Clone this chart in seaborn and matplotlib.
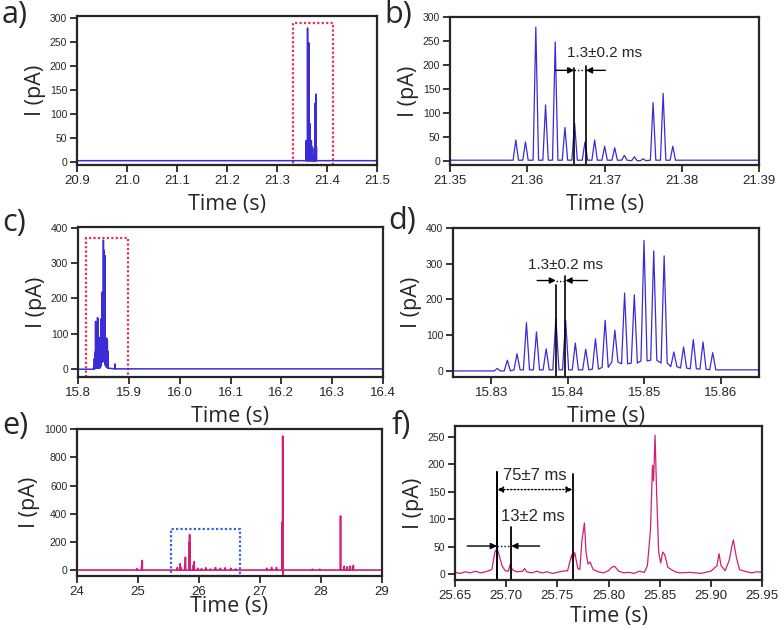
import numpy as np
import pandas as pd
import matplotlib
matplotlib.use('Agg')
import matplotlib.pyplot as plt
from matplotlib.patches import Rectangle
import seaborn as sns

sns.set_style('ticks')
plt.rcParams['font.family'] = ['Liberation Sans', 'DejaVu Sans']

# ---- data ----
# panel b / a : burst at ~21.36 s (peak time s, peak current pA)
b_times = [21.35852, 21.35977, 21.36111, 21.36237, 21.36362, 21.36488, 21.36613,
           21.36747, 21.36872, 21.37002, 21.37132, 21.37257, 21.37387, 21.37500,
           21.37629, 21.37759, 21.37884]
b_heights = [44, 40, 279, 117, 248, 70, 79, 40, 44, 31, 28, 12, 9, 5, 122, 141, 31]
b_floors = [2, 2, 2, 2, 2, 2, 2, 2, 2, 2, 2, 2, 1, 1, 2, 2, 2]

# panel d / c : burst at ~15.84 s
d_times = [15.83079, 15.83210, 15.83337, 15.83460, 15.83591, 15.83718, 15.83845,
           15.83972, 15.84099, 15.84235, 15.84362, 15.84489, 15.84616, 15.84743,
           15.84870, 15.84997, 15.85124, 15.85260, 15.85387, 15.85514, 15.85641,
           15.85768, 15.85895]
d_heights = [7, 30, 48, 135, 109, 62, 146, 142, 78, 61, 90, 142, 114, 218, 213,
             365, 336, 322, 53, 67, 88, 81, 51]
d_floors = [0, 0, 3, 3, 3, 3, 3, 3, 3, 3, 5, 10, 25, 20, 22, 28, 30, 22, 12, 8, 6, 5, 3]
c_extra_times = [15.873]
c_extra_heights = [15]

# panel e : long trace 24-29 s
e_times = [24.98, 25.06, 25.07, 25.645, 25.691, 25.705, 25.767, 25.777, 25.843,
           25.846, 25.854, 25.908, 25.922, 25.98, 26.04, 26.11, 26.19, 26.27,
           26.35, 26.43, 26.52, 26.60, 27.11, 27.19, 27.27, 27.365, 27.372,
           27.38, 27.86, 27.98, 28.32, 28.38, 28.43, 28.48, 28.53]
e_heights = [12, 30, 70, 20, 47, 18, 39, 93, 198, 253, 49, 37, 62, 15, 12, 18, 10,
             20, 15, 18, 15, 10, 15, 20, 20, 340, 950, -30, 8, 8, 385, 30, 25, 30, 35]

# panel f : zoom 25.65-25.95 s (trace vertices)
f_time = [25.650, 25.655, 25.660, 25.665, 25.670, 25.675, 25.680, 25.686, 25.689,
          25.691, 25.693, 25.696, 25.699, 25.702, 25.704, 25.706, 25.710, 25.716,
          25.718, 25.720, 25.725, 25.730, 25.735, 25.740, 25.745, 25.750, 25.755,
          25.760, 25.762, 25.764, 25.765, 25.767, 25.770, 25.772, 25.774, 25.7765,
          25.778, 25.780, 25.782, 25.785, 25.790, 25.795, 25.800, 25.803, 25.806,
          25.810, 25.815, 25.820, 25.825, 25.830, 25.835, 25.838, 25.841, 25.843,
          25.844, 25.8455, 25.847, 25.849, 25.851, 25.853, 25.855, 25.858, 25.865,
          25.870, 25.880, 25.890, 25.900, 25.906, 25.908, 25.910, 25.914, 25.918,
          25.921, 25.922, 25.925, 25.928, 25.935, 25.940, 25.945, 25.950]
f_current = [3, 1, 4, 2, 5, 2, 4, 8, 40, 47, 35, 15, 6, 5, 18, 8, 4, 5,
             10, 4, 2, 5, 2, 4, 1, 3, 5, 6, 20, 35, 25, 39, 10, 8, 60, 93,
             40, 18, 22, 8, 4, 2, 6, 12, 14, 5, 2, 3, 1, 5, 3, 15, 80, 198,
             170, 253, 150, 40, 20, 40, 35, 12, 4, 2, 3, 1, 5, 15, 37, 15, 6, 25,
             55, 62, 30, 8, 4, 2, 4, 3]

BLUE = '#3a2cd6'
PINK = '#d11f76'
RED_BOX = '#ee2d50'
BLUE_BOX = '#2f62e0'


def spike_trace(t0, t1, times, heights, floors, hw):
    xs, ys = [t0], [floors[0]]
    for t, h, fl in zip(times, heights, floors):
        xs += [t - hw, t, t + hw]
        ys += [fl, h, fl]
    xs.append(t1)
    ys.append(floors[-1])
    return pd.DataFrame({'time': xs, 'current': ys})


fig = plt.figure(figsize=(7.84, 6.30), dpi=100)
W, H = 784, 630


def make_ax(l, r, t, b):
    return fig.add_axes([l / W, (H - b) / H, (r - l) / W, (b - t) / H])


def style(ax, xlim, ylim, xticks, yticks, xfmt, xpad=5):
    ax.set_xlim(*xlim)
    ax.set_ylim(*ylim)
    ax.set_xticks(xticks)
    ax.set_xticklabels([xfmt.format(v) for v in xticks],
                       family=['Liberation Sans Narrow', 'Liberation Sans'], fontsize=9.5)
    ax.set_yticks(yticks)
    ax.set_yticklabels([str(v) for v in yticks], fontsize=7.5)
    for s in ax.spines.values():
        s.set_linewidth(1.6)
        s.set_visible(True)
    ax.tick_params(direction='out', length=5, width=1.3, pad=2)
    ax.set_xlabel('Time (s)', family='Open Sans', fontsize=15.5, labelpad=xpad)
    ax.set_ylabel('I (pA)', family='Open Sans', fontsize=15.5, labelpad=3)


def letter(x, y, s):
    fig.text(x / W, 1 - y / H, s, family='Open Sans', fontsize=22,
             va='baseline', ha='left')


def size_bar(ax, x1, x2, top1, top2, ybar, xl, xr, ybottom, lw=1.2, ms=9):
    ax.plot([x1, x1], [ybottom, top1], color='k', lw=lw)
    ax.plot([x2, x2], [ybottom, top2], color='k', lw=lw)
    ax.plot([x1, x2], [ybar, ybar], color='k', lw=1.0, ls=(0, (1, 1.5)))
    ap = dict(arrowstyle='-|>', color='k', lw=1.0, mutation_scale=ms, shrinkA=0, shrinkB=0)
    ax.annotate('', xy=(x1, ybar), xytext=(xl, ybar), arrowprops=ap)
    ax.annotate('', xy=(x2, ybar), xytext=(xr, ybar), arrowprops=ap)


# ---- a ----
ax = make_ax(77, 377, 16, 165)
df = spike_trace(20.9, 21.5, b_times, b_heights, b_floors, 0.00035)
sns.lineplot(data=df, x='time', y='current', ax=ax, color=BLUE, lw=1.1,
             estimator=None, sort=False)
ax.add_patch(Rectangle((21.332, -7), 0.079, 297, fill=False, ec=RED_BOX, lw=1.6,
                       ls=(0, (1, 1)), clip_on=False))
style(ax, (20.9, 21.5), (-7, 304), [20.9, 21.0, 21.1, 21.2, 21.3, 21.4, 21.5],
      [0, 50, 100, 150, 200, 250, 300], '{:.1f}')
letter(2, 23, 'a)')

# ---- b ----
ax = make_ax(450, 759, 17, 165)
df = spike_trace(21.35, 21.39, b_times, b_heights, b_floors, 0.00035)
sns.lineplot(data=df, x='time', y='current', ax=ax, color=BLUE, lw=0.9,
             estimator=None, sort=False)
size_bar(ax, 21.36609, 21.3676, 193, 197, 189, 21.36371, 21.37011, -8)
ax.text(21.3700, 225, '1.3\u00b10.2 ms', fontsize=11, ha='center', va='center')
style(ax, (21.35, 21.39), (-8, 300), [21.35, 21.36, 21.37, 21.38, 21.39],
      [0, 50, 100, 150, 200, 250, 300], '{:.2f}')
letter(384, 23, 'b)')

# ---- c ----
ax = make_ax(78, 383, 227, 377)
ct = d_times + c_extra_times
ch = d_heights + c_extra_heights
cf = d_floors + [1]
df = spike_trace(15.8, 16.4, ct, ch, cf, 0.0004)
sns.lineplot(data=df, x='time', y='current', ax=ax, color=BLUE, lw=1.1,
             estimator=None, sort=False)
ax.add_patch(Rectangle((15.816, -22), 0.083, 392, fill=False, ec=RED_BOX, lw=1.6,
                       ls=(0, (1, 1)), clip_on=False))
style(ax, (15.8, 16.4), (-22, 402), [15.8, 15.9, 16.0, 16.1, 16.2, 16.3, 16.4],
      [0, 100, 200, 300, 400], '{:.1f}')
letter(2, 231, 'c)')

# ---- d ----
ax = make_ax(453, 759, 228, 377)
df = spike_trace(15.825, 15.865, d_times, d_heights, d_floors, 0.0004)
sns.lineplot(data=df, x='time', y='current', ax=ax, color=BLUE, lw=0.9,
             estimator=None, sort=False)
size_bar(ax, 15.83845, 15.8397, 240, 265, 253, 15.8360, 15.84257, -17)
ax.text(15.8397, 296, '1.3\u00b10.2 ms', fontsize=11, ha='center', va='center')
style(ax, (15.825, 15.865), (-17, 400), [15.83, 15.84, 15.85, 15.86],
      [0, 100, 200, 300, 400], '{:.2f}')
letter(388, 229, 'd)')

# ---- e ----
ax = make_ax(77, 382, 429, 576)
e_floors = [2] * len(e_times)
df = spike_trace(24.0, 29.0, e_times, e_heights, e_floors, 0.003)
sns.lineplot(data=df, x='time', y='current', ax=ax, color=PINK, lw=1.2,
             estimator=None, sort=False)
ax.add_patch(Rectangle((25.536, -40), 1.144, 336, fill=False, ec=BLUE_BOX, lw=1.6,
                       ls=(0, (1, 1)), clip_on=False))
style(ax, (24, 29), (-40, 1000), [24, 25, 26, 27, 28, 29],
      [0, 200, 400, 600, 800, 1000], '{:.0f}', xpad=-1)
letter(2, 434, 'e)')

# ---- f ----
ax = make_ax(455, 762, 426, 580)
df = pd.DataFrame({'time': f_time, 'current': f_current})
sns.lineplot(data=df, x='time', y='current', ax=ax, color=PINK, lw=0.9,
             estimator=None, sort=False)
ax.plot([25.691, 25.691], [-11, 186], color='k', lw=1.3)
ax.plot([25.7649, 25.7649], [-11, 183], color='k', lw=1.3)
ax.annotate('', xy=(25.691, 154), xytext=(25.7649, 154),
            arrowprops=dict(arrowstyle='<|-|>', color='k', lw=1.0, ls=(0, (1, 1.5)),
                            mutation_scale=9, shrinkA=0, shrinkB=0))
ax.text(25.7278, 180, '75\u00b17 ms', fontsize=12, ha='center', va='center')
size_bar(ax, 25.691, 25.705, 186, 86, 51, 25.662, 25.7327, -11, lw=1.3)
ax.text(25.7261, 104, '13\u00b12 ms', fontsize=12, ha='center', va='center')
style(ax, (25.65, 25.95), (-11, 270), [25.65, 25.70, 25.75, 25.80, 25.85, 25.90, 25.95],
      [0, 50, 100, 150, 200, 250], '{:.2f}', xpad=3)
letter(392, 434, 'f)')

fig.savefig('out.png', dpi=100)
